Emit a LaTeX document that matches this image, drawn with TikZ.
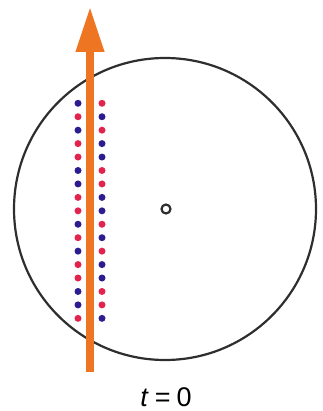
\documentclass[tikz,border=0pt]{standalone}
\usepackage{fontspec}
\setmainfont{Liberation Sans}
\usetikzlibrary{arrows.meta}
\definecolor{BeamOrange}{HTML}{EE7623}
\definecolor{PolB}{HTML}{2B1C8F}
\definecolor{PolR}{HTML}{E2234E}
\definecolor{RingGray}{HTML}{2E2E2E}

\begin{document}
\begin{tikzpicture}[x=1pt,y=-1pt,
  ring/.style={circle,draw=RingGray,line width=2.2pt,inner sep=0pt},
  dot/.style={circle,inner sep=0pt,minimum size=7pt},
  beam/.style={BeamOrange,line width=7.5pt,
    -{Triangle[width=27pt,length=45pt]}},
  lab/.style={font=\fontsize{27}{31}\selectfont,inner sep=0pt}]
  \useasboundingbox (0,0) rectangle (322,411);
  \node[ring,minimum size=302pt] (disk) at (165,209) {};
  \node[ring,minimum size=9pt,line width=2.2pt] (axis) at (166,209) {};
  \foreach \l/\r [count=\i from 0] in
    {B/R,R/B,B/R,R/B,R/B,B/R,B/R,R/B,R/B,B/R,R/B,B/R,R/B,R/B,B/R,B/R,R/B}{
    \pgfmathsetmacro\yy{103.3+13.44*\i}
    \node[dot,fill=Pol\l] (l\i) at (78,\yy) {};
    \node[dot,fill=Pol\r] (r\i) at (102,\yy) {};
  }
  \coordinate (tail) at (90,372);
  \coordinate (tip) at (90,7);
  \draw[beam] (tail) -- (tip);
  \node[lab] (time) at (166,397) {\textit{t}\hspace{6pt}=\hspace{6pt}0};
\end{tikzpicture}
\end{document}
